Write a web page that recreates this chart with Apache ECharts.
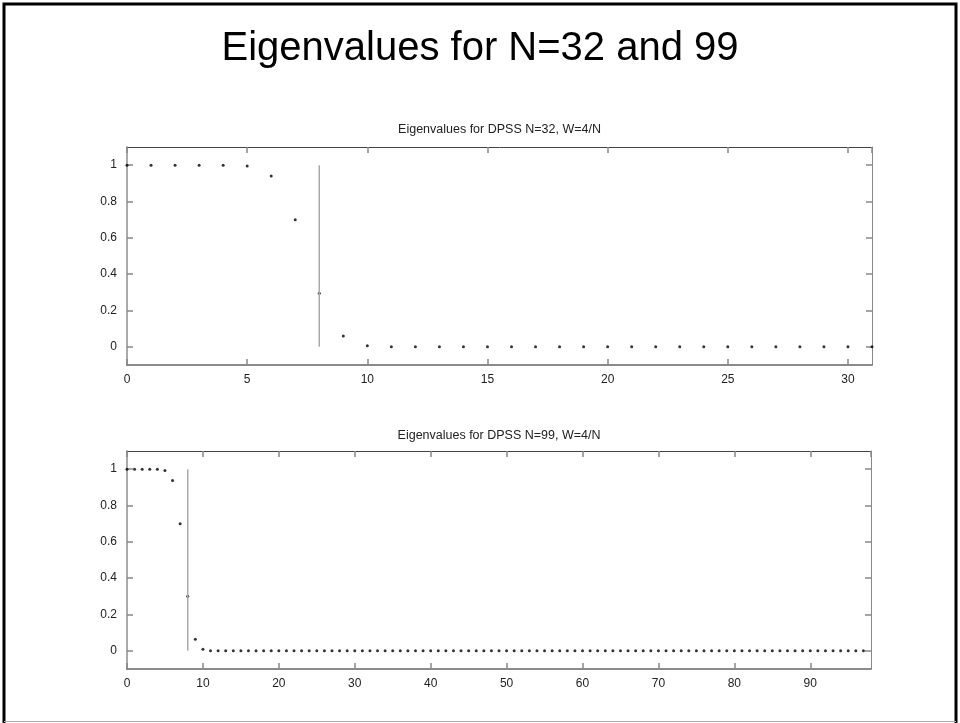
<!DOCTYPE html>
<html>
<head>
<meta charset="utf-8">
<script src="https://cdn.jsdelivr.net/npm/echarts@6/dist/echarts.min.js"></script>
<style>
html,body{margin:0;padding:0;background:#fff;}
#main{width:960px;height:723px;}
</style>
</head>
<body>
<div id="main"></div>
<script>
var chartDom = document.getElementById('main');
var myChart = echarts.init(chartDom);
var option;

// eigenvalues, index 0..N-1
var eig32 = [1, 1, 1, 1, 1, 0.995, 0.94, 0.70, 0.295, 0.06, 0.006,
  0, 0, 0, 0, 0, 0, 0, 0, 0, 0, 0, 0, 0, 0, 0, 0, 0, 0, 0, 0, 0];
var eig99 = [1, 1, 1, 1, 1, 0.993, 0.938, 0.70, 0.30, 0.064, 0.009,
  0, 0, 0, 0, 0, 0, 0, 0, 0, 0, 0, 0, 0, 0, 0, 0, 0, 0, 0, 0, 0, 0, 0, 0, 0, 0, 0, 0, 0,
  0, 0, 0, 0, 0, 0, 0, 0, 0, 0, 0, 0, 0, 0, 0, 0, 0, 0, 0, 0, 0, 0, 0, 0, 0, 0, 0, 0, 0,
  0, 0, 0, 0, 0, 0, 0, 0, 0, 0, 0, 0, 0, 0, 0, 0, 0, 0, 0, 0, 0, 0, 0, 0, 0, 0, 0, 0, 0];
var cutoff = 8; // 2NW
var yTicks = [0, 0.2, 0.4, 0.6, 0.8, 1];

function pts(arr) {
  return arr.map(function (v, i) { return [i, v]; });
}

var lbl = { color: '#222', fontSize: 12, fontFamily: 'Liberation Sans', margin: 9, showMaxLabel: false };
var tick = { inside: true, length: 6, lineStyle: { color: '#888', width: 1.5 } };

function xAx(gi, max, interval, pos, show) {
  return {
    type: 'value', gridIndex: gi, min: 0, max: max, interval: interval, position: pos,
    axisLine: { show: true, onZero: false, lineStyle: { color: pos == 'top' ? '#444' : '#666', width: pos == 'top' ? 1 : 1.5 } },
    axisTick: tick,
    axisLabel: Object.assign({ show: show }, lbl),
    splitLine: { show: false }
  };
}
function yAx(gi, pos, show) {
  return {
    type: 'value', gridIndex: gi, min: -0.1, max: 1.1, position: pos,
    axisLine: { show: true, onZero: false, lineStyle: { color: pos == 'left' ? '#aaa' : '#888', width: pos == 'left' ? 2 : 1 } },
    axisTick: Object.assign({ customValues: yTicks }, tick),
    axisLabel: Object.assign({}, lbl, { show: show, customValues: yTicks, showMaxLabel: true, margin: 10 }),
    splitLine: { show: false }
  };
}

option = {
  backgroundColor: '#fff',
  animation: false,
  grid: [
    { left: 127, top: 147, width: 745, height: 218 },
    { left: 127, top: 451, width: 744, height: 218 }
  ],
  xAxis: [
    xAx(0, 31, 5, 'bottom', true), xAx(0, 31, 5, 'top', false),
    xAx(1, 98, 10, 'bottom', true), xAx(1, 98, 10, 'top', false)
  ],
  yAxis: [
    yAx(0, 'left', true), yAx(0, 'right', false),
    yAx(1, 'left', true), yAx(1, 'right', false)
  ],
  graphic: [
    { type: 'polyline', shape: { points: [[4, 724], [4, 4], [956, 4], [956, 724]] },
      style: { stroke: '#000', lineWidth: 3, fill: null } },
    { type: 'line', shape: { x1: 4, y1: 721.5, x2: 956, y2: 721.5 },
      style: { stroke: '#aaa', lineWidth: 1 } },
    { type: 'text', x: 480, y: 49,
      style: { text: 'Eigenvalues for N=32 and 99', fontFamily: 'Liberation Sans', fontSize: 40,
        fill: '#000', textAlign: 'center', textVerticalAlign: 'middle' } },
    { type: 'text', x: 499.5, y: 130,
      style: { text: 'Eigenvalues for DPSS N=32, W=4/N', fontFamily: 'Liberation Sans', fontSize: 12.5,
        fill: '#222', textAlign: 'center', textVerticalAlign: 'middle' } },
    { type: 'text', x: 499, y: 436,
      style: { text: 'Eigenvalues for DPSS N=99, W=4/N', fontFamily: 'Liberation Sans', fontSize: 12.5,
        fill: '#222', textAlign: 'center', textVerticalAlign: 'middle' } }
  ],
  series: [
    { type: 'line', xAxisIndex: 0, yAxisIndex: 0, data: [[cutoff, 0], [cutoff, 1]],
      symbol: 'none', lineStyle: { color: '#aaa', width: 1.5 } },
    { type: 'scatter', xAxisIndex: 0, yAxisIndex: 0, data: pts(eig32),
      symbolSize: 3, itemStyle: { color: '#000' } },
    { type: 'line', xAxisIndex: 2, yAxisIndex: 2, data: [[cutoff, 0], [cutoff, 1]],
      symbol: 'none', lineStyle: { color: '#aaa', width: 1.5 } },
    { type: 'scatter', xAxisIndex: 2, yAxisIndex: 2, data: pts(eig99),
      symbolSize: 3, itemStyle: { color: '#000' } }
  ]
};
option && myChart.setOption(option);
</script>
</body>
</html>
